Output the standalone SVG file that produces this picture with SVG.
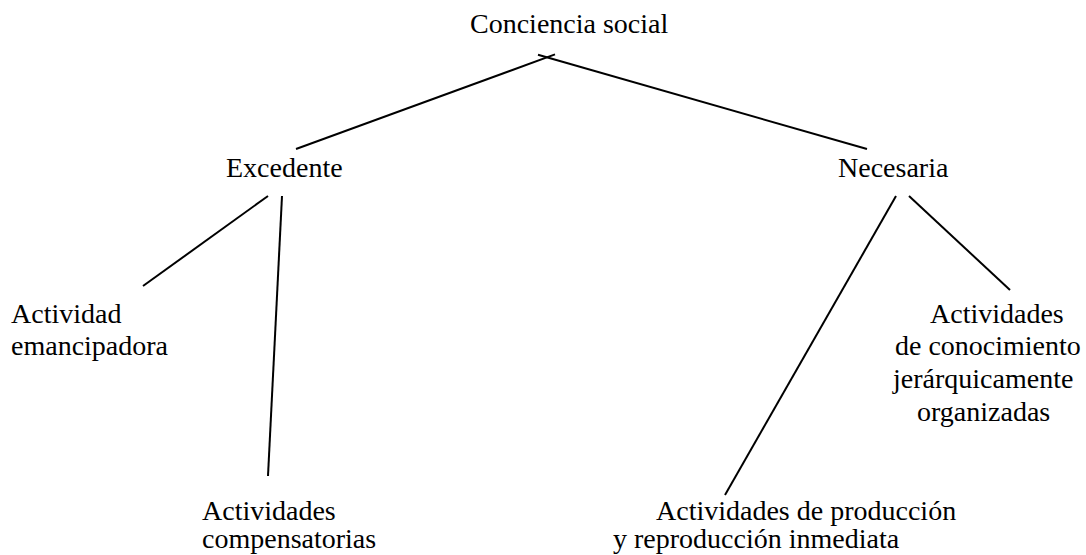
<svg xmlns="http://www.w3.org/2000/svg" width="1086" height="555" viewBox="0 0 1086 555">
<style>
text{font-family:"Liberation Serif","Times New Roman",serif;font-size:28px;fill:#000}
.c line{stroke:#000;stroke-width:2;stroke-linecap:butt}
</style>
<rect width="1086" height="555" fill="#fff"/>
<g class="c" id="connectors">
<line x1="296" y1="149" x2="555" y2="54.4"/>
<line x1="538" y1="54.8" x2="867" y2="149"/>
<line x1="268" y1="196" x2="143" y2="286"/>
<line x1="282" y1="196" x2="268" y2="476"/>
<line x1="896" y1="196" x2="725" y2="495"/>
<line x1="909" y1="196" x2="1010" y2="290"/>
</g>
<g id="n-conciencia"><text x="470" y="33">Conciencia social</text></g>
<g id="n-excedente"><text x="226" y="177">Excedente</text></g>
<g id="n-necesaria"><text x="838" y="177">Necesaria</text></g>
<g id="n-emancipadora"><text x="11" y="323">Actividad</text><text x="11" y="355">emancipadora</text></g>
<g id="n-conocimiento"><text x="930" y="323">Actividades</text><text x="895" y="355">de conocimiento</text><text x="893" y="388">jerárquicamente</text><text x="917" y="421">organizadas</text></g>
<g id="n-compensatorias"><text x="202" y="520">Actividades</text><text x="202" y="548">compensatorias</text></g>
<g id="n-produccion"><text x="656" y="520">Actividades de producción</text><text x="613" y="548">y reproducción inmediata</text></g>
</svg>
